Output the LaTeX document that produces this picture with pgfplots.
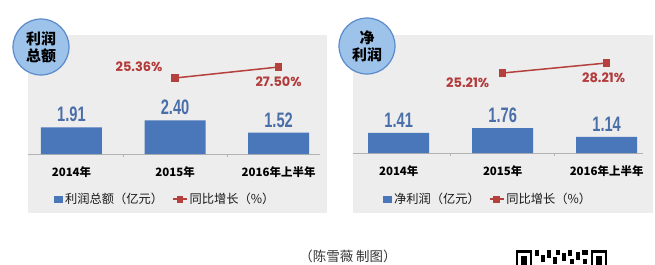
\documentclass[border=0pt]{standalone}
\usepackage{pgfplots}
\pgfplotsset{compat=1.18}
\usepackage{fontspec}
\setmainfont{Noto Sans CJK SC}
\newfontfamily\pop{Poppins}
\newfontfamily\lib{Liberation Sans}
\definecolor{barblue}{HTML}{4A77B9}
\definecolor{numblue}{HTML}{4A6FA8}
\definecolor{lred}{HTML}{B5403D}
\definecolor{pred}{HTML}{B33A3A}
\definecolor{bg}{HTML}{EDEDED}
\definecolor{badge}{HTML}{9DC3EA}
\definecolor{badgeb}{HTML}{5A8ACB}
\newcommand{\numlab}{\scalebox{0.7}[1]{\lib\bfseries\fontsize{21}{21}\selectfont\pgfmathprintnumber[fixed,precision=2,fixed zerofill,assume math mode=true]{\pgfplotspointmeta}}}
\tikzset{pct/.style={text=pred, font=\pop\bfseries\fontsize{13}{13}\selectfont, anchor=center}}
\pgfplotsset{
  barpanel/.style={
    scale only axis, height=100bp, anchor=south west, clip=false,
    ymin=0, hide y axis, axis x line*=bottom,
    x axis line style={draw=gray!60, line width=0.8bp, -},
    xtick={0,1,2}, major tick length=0pt,
    xticklabel style={font=\fontsize{11.5}{12}\selectfont\bfseries, anchor=north, yshift=-9bp},
    extra x ticks={0.5,1.5}, extra x tick labels={},
    extra x tick style={major tick length=3bp, tick align=outside, tick style={draw=gray!60, line width=0.6bp}},
    ybar, bar width=61bp, bar shift=0pt,
    nodes near coords={\numlab},
    every node near coord/.append style={text=numblue, inner sep=0pt, anchor=south, yshift=5bp},
    legend columns=2,
    legend style={draw=none, fill=none, anchor=center,
      font=\fontsize{12.3}{13}\selectfont\color{black!90},
      /tikz/every even column/.append style={column sep=7bp}},
  },
  linepanel/.style={
    scale only axis, height=100bp, anchor=south west, clip=false, hide axis,
  },
  barleg/.style={legend image code/.code={\fill[barblue] (0bp,-3.5bp) rectangle (9bp,3.5bp);}},
  lineleg/.style={legend image code/.code={\draw[lred, line width=1.5bp] (0bp,0bp) -- (14bp,0bp); \fill[lred] (4bp,-2.7bp) rectangle (9.4bp,2.7bp);}},
}
\begin{document}
\begin{tikzpicture}[x=1bp,y=1bp]
\fill[white] (0,0) rectangle (655,264);
% panel backgrounds
\fill[bg] (28,51) rectangle (327,229);
\fill[bg] (353,51) rectangle (653,229);

% ---------- left panel ----------
\begin{axis}[barpanel, at={(28bp,110bp)}, width=292bp, xmin=-0.42, xmax=2.40, ymax=7.14,
  xticklabels={2014年,2015年,2016年上半年},
  legend style={at={(0.47,-0.45)}}]
\addplot[fill=barblue, draw=none, barleg]
  coordinates {(0,1.91) (1,2.40) (2,1.52)};
\addlegendentry{利润总额（亿元）}
\addlegendimage{lineleg}
\addlegendentry{同比增长（\%）}
\end{axis}
\begin{axis}[linepanel, at={(28bp,110bp)}, width=292bp, xmin=-0.42, xmax=2.40, ymin=10.57, ymax=30.03]
\addplot[lred, line width=1.5bp, mark=square*, mark size=3bp] coordinates {(1,25.36) (2,27.50)};
\node[pct, xshift=-36bp, yshift=11bp] at (axis cs:1,25.36) {25.36\%};
\node[pct, yshift=-15bp] at (axis cs:2,27.50) {27.50\%};
\end{axis}

% ---------- right panel ----------
\begin{axis}[barpanel, at={(353bp,111bp)}, width=290bp, xmin=-0.44, xmax=2.35, ymax=7.04,
  xticklabels={2014年,2015年,2016年上半年},
  legend style={at={(0.466,-0.46)}}]
\addplot[fill=barblue, draw=none, barleg]
  coordinates {(0,1.41) (1,1.76) (2,1.14)};
\addlegendentry{净利润（亿元）}
\addlegendimage{lineleg}
\addlegendentry{同比增长（\%）}
\end{axis}
\begin{axis}[linepanel, at={(353bp,111bp)}, width=290bp, xmin=-0.44, xmax=2.35, ymin=1.21, ymax=31.21]
\addplot[lred, line width=1.5bp, mark=square*, mark size=3bp] coordinates {(1,25.21) (2,28.21)};
\node[pct, xshift=-35bp, yshift=-10bp] at (axis cs:1,25.21) {25.21\%};
\node[pct, xshift=-3bp, yshift=-15bp] at (axis cs:2,28.21) {28.21\%};
\end{axis}

% badges
\draw[fill=badge, draw=badgeb, line width=1.2bp] (41,217) circle (28);
\node[align=center, font=\fontsize{15}{17}\selectfont\bfseries] at (41,217) {利润\\总额};
\draw[fill=badge, draw=badgeb, line width=1.2bp] (367,218) circle (28);
\node[align=center, font=\fontsize{15}{17}\selectfont\bfseries] at (367,218) {净\\利润};

% credit
\node[font=\fontsize{13.5}{14}\selectfont, text=black!80] at (348,8) {（陈雪薇 制图）};

% partial QR code
\begin{scope}
\clip (510,0) rectangle (610,14);
\draw[black, line width=2.5bp] (517,-10) rectangle (531,12.5);
\fill[black] (521,-6) rectangle (527,8);
\draw[black, line width=2.5bp] (592,-10) rectangle (606,12.5);
\fill[black] (596,-6) rectangle (602,8);
\foreach \a/\b/\c/\d in {535/8/539/14, 541/2/545/9, 547/6/551/14, 553/0/557/7, 556/9/560/14, 562/3/566/11, 568/8/572/14, 570/0/574/5, 576/4/580/12, 582/9/588/14, 583/0/587/5}
  {\fill[black] (\a,\b) rectangle (\c,\d);}
\end{scope}

\pgfresetboundingbox
\path (0,0) rectangle (655,264);
\end{tikzpicture}
\end{document}
